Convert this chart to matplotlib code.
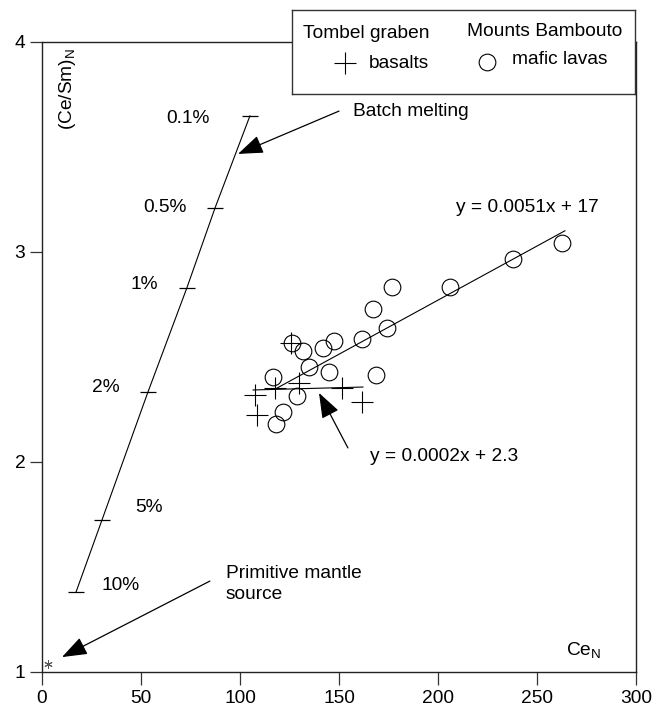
import matplotlib
matplotlib.use("Agg")
import matplotlib.pyplot as plt

plt.rcParams['font.family'] = ['Liberation Sans', 'DejaVu Sans']
plt.rcParams['mathtext.fontset'] = 'custom'
plt.rcParams['mathtext.rm'] = 'Liberation Sans'
plt.rcParams['mathtext.it'] = 'Liberation Sans'

FS = 13.8

# Mounts Bambouto mafic lavas (Ce_N, (Ce/Sm)_N)
lava_x = [262.5, 237.7, 206.1, 176.6, 167.3, 174.4, 161.8, 147.5, 142.1,
          126.1, 132.0, 135.0, 145.1, 168.7, 116.8, 128.6, 121.6, 118.2]
lava_y = [3.041, 2.965, 2.832, 2.832, 2.727, 2.640, 2.586, 2.576, 2.544,
          2.565, 2.529, 2.454, 2.427, 2.414, 2.403, 2.316, 2.240, 2.180]

# Tombel graben basalts
bas_x = [125.6, 129.8, 117.7, 107.6, 151.4, 161.5, 108.7]
bas_y = [2.565, 2.375, 2.351, 2.319, 2.351, 2.287, 2.224]

# batch melting curve and melt fractions
melt_x = [17.2, 30.3, 53.5, 73.2, 87.4, 105.0]
melt_y = [1.381, 1.724, 2.333, 2.830, 3.210, 3.648]
melt_lab = ['10%', '5%', '2%', '1%', '0.5%', '0.1%']

# regression lines (end points)
fit_lava_x = [118.7, 264.1]
fit_lava_y = [2.352, 3.101]
fit_bas_x = [106.6, 162.1]
fit_bas_y = [2.343, 2.357]

# primitive mantle source
pm_x = [3.0]
pm_y = [1.04]

fig = plt.figure(figsize=(6.62, 7.08), dpi=100)
ax = fig.add_axes([42/662, 36/708, 594/662, 630/708])

ax.plot(melt_x, melt_y, color='black', lw=0.8, marker='_', ms=12, mew=0.9)
ax.plot(fit_lava_x, fit_lava_y, color='black', lw=0.8)
ax.plot(fit_bas_x, fit_bas_y, color='black', lw=0.8)
ax.plot(lava_x, lava_y, ls='none', marker='o', ms=12, mfc='none', mec='black', mew=0.8)
ax.plot(bas_x, bas_y, ls='none', marker='+', ms=16, mec='black', mew=0.8)
ax.plot(pm_x, pm_y, ls='none', marker=(6, 2, 0), ms=6, mec='#555555', mew=0.7)

# melt fraction labels
lab_pos = {'10%': (30.3, 1.414, 'left'), '5%': (47.0, 1.781, 'left'),
           '2%': (39.4, 2.357, 'right'), '1%': (58.6, 2.843, 'right'),
           '0.5%': (73.2, 3.21, 'right'), '0.1%': (84.8, 3.638, 'right')}
for lab in melt_lab:
    x, y, ha = lab_pos[lab]
    ax.text(x, y, lab, ha=ha, va='center', fontsize=FS)

arrow = dict(arrowstyle='-|>,head_length=0.6,head_width=0.22', mutation_scale=26,
             color='black', lw=0.9, shrinkA=0, shrinkB=0)
ax.annotate('', xy=(99.0, 3.467), xytext=(150.0, 3.671), arrowprops=arrow)
ax.text(157, 3.667, 'Batch melting', ha='left', va='center', fontsize=FS)

ax.annotate('', xy=(10.1, 1.071), xytext=(84.8, 1.433), arrowprops=arrow)
ax.text(92.9, 1.51, 'Primitive mantle\nsource', ha='left', va='top', fontsize=FS,
        linespacing=1.3)

ax.annotate('', xy=(139.9, 2.329), xytext=(154.5, 2.067), arrowprops=arrow)
ax.text(165.7, 2.024, 'y = 0.0002x + 2.3', ha='left', va='center', fontsize=FS)
ax.text(209.1, 3.21, 'y = 0.0051x + 17', ha='left', va='center', fontsize=FS)

ax.text(264.6, 1.081, r'Ce$_\mathrm{N}$', ha='left', va='baseline', fontsize=FS)
ax.text(13.1, 3.971, r'(Ce/Sm)$_\mathrm{N}$', ha='center', va='top', rotation=90,
        fontsize=FS)

ax.set_xlim(0, 300)
ax.set_ylim(1, 4)
ax.set_xticks([0, 50, 100, 150, 200, 250, 300])
ax.set_yticks([1, 2, 3, 4])
ax.tick_params(direction='out', length=9, width=0.9, color='#333333',
               labelsize=FS, pad=3)
ax.tick_params(axis='x', pad=4)
for s in ax.spines.values():
    s.set_linewidth(1.0)
    s.set_color('#222222')

# legend box (pixel coords of the figure)
lg = fig.add_axes([292/662, (708-94)/708, 343/662, 84/708])
lg.set_xlim(292, 635)
lg.set_ylim(94, 10)
lg.set_xticks([])
lg.set_yticks([])
lg.set_facecolor('white')
for s in lg.spines.values():
    s.set_linewidth(1.0)
    s.set_color('#333333')
lg.text(303, 33, 'Tombel graben', ha='left', va='center', fontsize=FS)
lg.text(467, 31, 'Mounts Bambouto', ha='left', va='center', fontsize=FS)
lg.plot([345], [63], marker='+', ms=16, mec='black', mew=0.8)
lg.text(369, 63, 'basalts', ha='left', va='center', fontsize=FS)
lg.plot([487], [62], marker='o', ms=12, mfc='none', mec='black', mew=0.8)
lg.text(512, 60, 'mafic lavas', ha='left', va='center', fontsize=FS)

fig.savefig('out.png', dpi=100)
